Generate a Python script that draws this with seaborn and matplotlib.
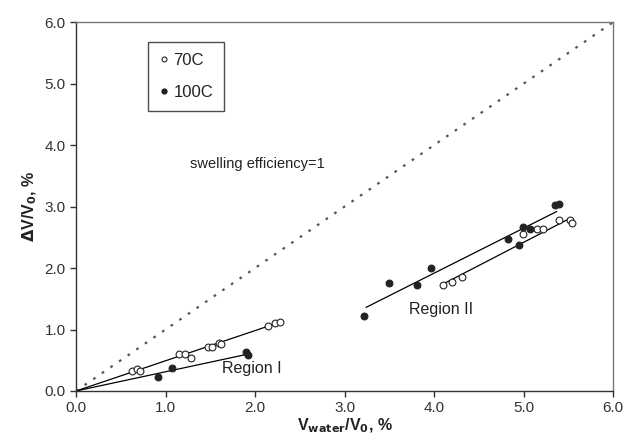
import numpy as np
import pandas as pd
import matplotlib
matplotlib.use("Agg")
import matplotlib.pyplot as plt
import seaborn as sns
from matplotlib.lines import Line2D

# 70C data (open circles)
x70 = [0.62, 0.68, 0.72, 1.15, 1.22, 1.28, 1.48, 1.52, 1.60, 1.62, 2.15, 2.22, 2.28,
       4.10, 4.20, 4.31, 4.99, 5.15, 5.22, 5.40, 5.52, 5.54]
y70 = [0.32, 0.36, 0.33, 0.60, 0.60, 0.54, 0.72, 0.72, 0.78, 0.76, 1.06, 1.10, 1.13,
       1.73, 1.78, 1.85, 2.56, 2.63, 2.64, 2.78, 2.78, 2.73]
# 100C data (filled circles)
x100 = [0.92, 1.07, 1.90, 1.92,
        3.22, 3.50, 3.81, 3.96, 4.83, 4.95, 4.99, 5.07, 5.35, 5.39]
y100 = [0.22, 0.37, 0.63, 0.58,
        1.22, 1.75, 1.72, 2.00, 2.48, 2.37, 2.67, 2.64, 3.03, 3.04]

# fitted trend lines (endpoints)
fit70_I_x = [0.0, 2.28]
fit70_I_y = [0.0, 1.12]
fit100_I_x = [0.0, 1.92]
fit100_I_y = [0.0, 0.60]
fit70_II_x = [4.10, 5.52]
fit70_II_y = [1.74, 2.81]
fit100_II_x = [3.24, 5.37]
fit100_II_y = [1.36, 2.92]
ideal = [0.0, 6.0]

ticks = [0.0, 1.0, 2.0, 3.0, 4.0, 5.0, 6.0]
tick_labels = ["0.0", "1.0", "2.0", "3.0", "4.0", "5.0", "6.0"]

sns.set_style("white")
plt.rcParams['font.family'] = ['Liberation Sans', 'DejaVu Sans']

fig = plt.figure(figsize=(6.25, 4.43), dpi=100)
ax = fig.add_axes([0.1216, 0.1174, 0.8594, 0.8326])

# ideal line
sns.lineplot(x=ideal, y=ideal, ax=ax, color="#555555", linestyle=(0, (1.2, 3.5)),
             linewidth=1.6, legend=False)

for fx, fy in [(fit70_I_x, fit70_I_y), (fit100_I_x, fit100_I_y),
               (fit70_II_x, fit70_II_y), (fit100_II_x, fit100_II_y)]:
    sns.lineplot(x=fx, y=fy, ax=ax, color="black", linewidth=0.9, legend=False)

df70 = pd.DataFrame({"x": x70, "y": y70})
df100 = pd.DataFrame({"x": x100, "y": y100})
sns.scatterplot(data=df70, x="x", y="y", ax=ax, marker="o", s=24,
                facecolor="white", edgecolor="#222222", linewidth=0.8, zorder=3)
sns.scatterplot(data=df100, x="x", y="y", ax=ax, marker="o", s=24,
                color="#222222", edgecolor="#222222", linewidth=0.8, zorder=3)

ax.set_xlim(0, 6)
ax.set_ylim(0, 6)
ax.set_xticks(ticks)
ax.set_xticklabels(tick_labels)
ax.set_yticks(ticks)
ax.set_yticklabels(tick_labels)
ax.tick_params(axis="both", direction="out", length=4, width=1, colors="#333333",
               labelsize=11, labelcolor="#333333", bottom=True, left=True)
for s in ax.spines.values():
    s.set_color("#333333")
    s.set_linewidth(1.0)
ax.spines["top"].set_color("#777777")
ax.spines["right"].set_color("#777777")

ax.set_xlabel(r"V$_{\mathbf{water}}$/V$_{\mathbf{0}}$, %", fontsize=11.5, fontweight="bold",
              color="#222222", labelpad=1)
ax.set_ylabel(r"$\mathbf{\Delta}$V/V$_{\mathbf{0}}$, %", fontsize=11.5, fontweight="bold",
              color="#222222", labelpad=4)

ax.text(1.27, 3.7, "swelling efficiency=1", fontsize=10.5, color="#222222", va="center")
ax.text(1.63, 0.37, "Region I", fontsize=11.5, color="#222222", va="center")
ax.text(3.72, 1.32, "Region II", fontsize=11.5, color="#222222", va="center")

handles = [Line2D([], [], marker="o", linestyle="none", markersize=3.5,
                  markerfacecolor="white", markeredgecolor="#222222", markeredgewidth=0.8),
           Line2D([], [], marker="o", linestyle="none", markersize=3.5,
                  markerfacecolor="#222222", markeredgecolor="#222222")]
leg = ax.legend(handles, ["70C", "100C"], loc="upper left", bbox_to_anchor=(0.1335, 0.945),
                frameon=True, fancybox=False, edgecolor="#222222", fontsize=12,
                handlelength=0.6, handletextpad=0.3, borderpad=0.65, labelspacing=1.0,
                borderaxespad=0)
leg.get_frame().set_linewidth(1.0)
for t in leg.get_texts():
    t.set_color("#222222")

fig.savefig("out.png", dpi=100)
